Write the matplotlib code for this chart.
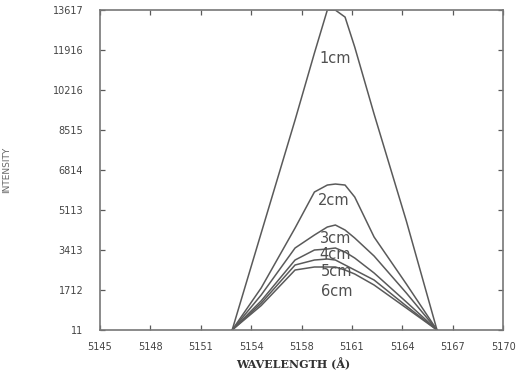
import matplotlib
matplotlib.use("Agg")
import matplotlib.pyplot as plt

# ── Données ──────────────────────────────────────────────────
wavelength = [5153.2, 5155.0, 5157.1, 5158.3, 5159.1, 5159.6, 5160.2,
              5160.8, 5162.0, 5164.0, 5165.9]

i_1cm = [11, 4135, 8940, 11788, 13617, 13617, 13320, 12044, 9195, 4646, 11]
i_2cm = [11, 1800, 4348, 5879, 6176, 6219, 6176, 5666, 3965, 1967, 11]
i_3cm = [11, 1500, 3498, 4050, 4391, 4476, 4263, 3923, 3157, 1584, 11]
i_4cm = [11, 1250, 2987, 3413, 3455, 3498, 3327, 3072, 2435, 1202, 11]
i_5cm = [11, 1150, 2775, 2987, 3030, 2987, 2775, 2562, 2137, 1032, 11]
i_6cm = [11, 1050, 2562, 2690, 2690, 2690, 2562, 2392, 1924, 946, 11]

series = [i_1cm, i_2cm, i_3cm, i_4cm, i_5cm, i_6cm]
labels = ["1cm", "2cm", "3cm", "4cm", "5cm", "6cm"]
label_x = [5159.6, 5159.5, 5159.6, 5159.6, 5159.7, 5159.7]
label_y = [11576, 5539, 3923, 3242, 2520, 1669]

x_ticks = [5145, 5148.125, 5151.25, 5154.375, 5157.5, 5160.625,
           5163.75, 5166.875, 5170]
x_tick_labels = ["5145", "5148", "5151", "5154", "5158", "5161",
                 "5164", "5167", "5170"]
y_ticks = [11, 1712, 3413, 5113, 6814, 8515, 10216, 11916, 13617]

LINE = "#5a5a5a"
TXT = "#444444"

fig = plt.figure(figsize=(5.23, 3.88), dpi=100)
ax = fig.add_axes([0.191, 0.1495, 0.771, 0.8245])

for y, lab, lx, ly in zip(series, labels, label_x, label_y):
    ax.plot(wavelength, y, color=LINE, lw=1.1)
    ax.text(lx, ly, lab, ha="center", va="center", fontsize=10.5,
            color="#505050", family="DejaVu Sans")

ax.set_xlim(5145, 5170)
ax.set_ylim(11, 13617)
ax.set_xticks(x_ticks)
ax.set_xticklabels(x_tick_labels)
ax.set_yticks(y_ticks)
ax.set_yticklabels([str(v) for v in y_ticks])

ax.tick_params(direction="in", length=3.5, width=0.9, colors=LINE,
               labelcolor=TXT, labelsize=7, top=True, right=True)
ax.tick_params(axis="x", pad=9)
ax.tick_params(axis="y", pad=12)
for s in ax.spines.values():
    s.set_color("#777777")
    s.set_linewidth(1.2)

ax.set_xlabel("WAVELENGTH (Å)", fontsize=8, family="DejaVu Serif",
              fontweight="bold", color="#333333")
ax.xaxis.set_label_coords(0.48, -0.085)
ax.set_ylabel("INTENSITY", fontsize=6.5, color="#666666", labelpad=30)

fig.savefig("out.png", dpi=100)
